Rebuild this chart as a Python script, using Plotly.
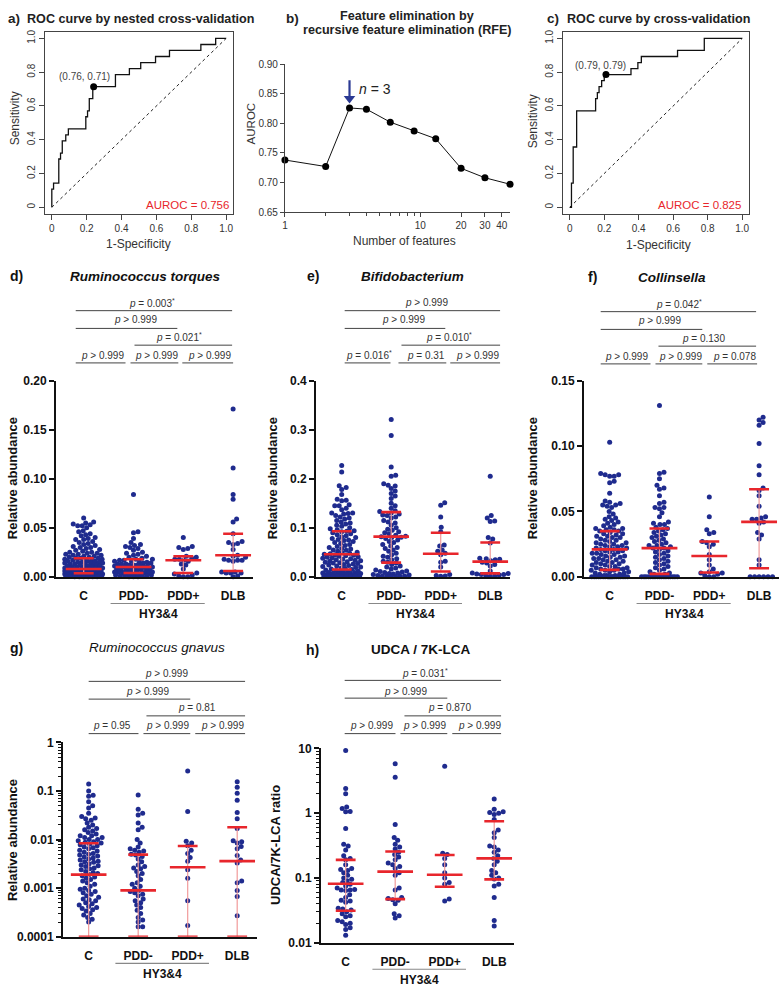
import math
import plotly.graph_objects as go

W, H = 783, 994

# ---------------- data ----------------
roc_a_fpr = [0, 0, 0.01, 0.01, 0.04, 0.04, 0.05, 0.05, 0.06, 0.06, 0.08, 0.08, 0.095, 0.095, 0.195, 0.195,
             0.205, 0.205, 0.215, 0.215, 0.235, 0.235, 0.365, 0.365, 0.445, 0.445, 0.51, 0.51, 0.595, 0.595,
             0.675, 0.675, 0.855, 0.855, 0.94, 0.94, 1.0]
roc_a_tpr = [0, 0.107, 0.107, 0.143, 0.143, 0.286, 0.286, 0.321, 0.321, 0.393, 0.393, 0.429, 0.429, 0.464,
             0.464, 0.536, 0.536, 0.571, 0.571, 0.643, 0.643, 0.714, 0.714, 0.786, 0.786, 0.821, 0.821, 0.857,
             0.857, 0.893, 0.893, 0.929, 0.929, 0.964, 0.964, 1.0, 1.0]
roc_a_point = (0.24, 0.714)
roc_a_label = "(0.76, 0.71)"
roc_a_auc = "AUROC = 0.756"

roc_c_fpr = [0, 0.01, 0.01, 0.02, 0.02, 0.04, 0.04, 0.15, 0.15, 0.16, 0.16, 0.17, 0.17, 0.185, 0.185, 0.2,
             0.2, 0.355, 0.355, 0.395, 0.395, 0.415, 0.415, 0.625, 0.625, 0.78, 0.78, 1.0]
roc_c_tpr = [0, 0, 0.143, 0.143, 0.357, 0.357, 0.571, 0.571, 0.643, 0.643, 0.679, 0.679, 0.714, 0.714, 0.75,
             0.75, 0.786, 0.786, 0.821, 0.821, 0.857, 0.857, 0.893, 0.893, 0.929, 0.929, 1.0, 1.0]
roc_c_point = (0.21, 0.786)
roc_c_label = "(0.79, 0.79)"
roc_c_auc = "AUROC = 0.825"

rfe_n = [1, 2, 3, 4, 6, 9, 13, 20, 30, 46]
rfe_auc = [0.738, 0.727, 0.826, 0.824, 0.802, 0.787, 0.774, 0.724, 0.708, 0.697]
rfe_best_n = 3

categories = ["C", "PDD-", "PDD+", "DLB"]

# d) Ruminococcus torques
d_C = [0.060, 0.056, 0.055, 0.054, 0.053, 0.052, 0.052, 0.050, 0.047, 0.046, 0.044, 0.043, 0.042, 0.040, 0.039,
       0.038, 0.038, 0.036, 0.035, 0.034, 0.033, 0.032, 0.031, 0.030, 0.030, 0.029, 0.028, 0.027, 0.026, 0.025,
       0.025, 0.024, 0.024, 0.023, 0.023, 0.022, 0.022, 0.021, 0.021, 0.020, 0.020, 0.019, 0.019, 0.019, 0.018,
       0.018, 0.017, 0.017, 0.017, 0.016, 0.016, 0.016, 0.015, 0.015, 0.015, 0.014, 0.014, 0.014, 0.013, 0.013,
       0.013, 0.012, 0.012, 0.012, 0.011, 0.011, 0.011, 0.010, 0.010, 0.010, 0.010, 0.009, 0.009, 0.009, 0.009,
       0.008, 0.008, 0.008, 0.008, 0.008, 0.007, 0.007, 0.007, 0.007, 0.006, 0.006, 0.006, 0.006, 0.006, 0.005,
       0.005, 0.005, 0.005, 0.005, 0.004, 0.004, 0.004, 0.004, 0.004, 0.004, 0.003, 0.003, 0.003, 0.003, 0.003,
       0.003, 0.002, 0.002, 0.002, 0.002, 0.002, 0.002, 0.001, 0.001, 0.001, 0.001, 0.001, 0.001, 0.0005, 0.0005,
       0.0005, 0.0005, 0.0, 0.0, 0.0, 0.0, 0.0, 0.0]
d_PDDm = [0.084, 0.046, 0.045, 0.039, 0.035, 0.033, 0.032, 0.031, 0.030, 0.029, 0.027, 0.025, 0.024, 0.023,
          0.022, 0.021, 0.020, 0.019, 0.018, 0.018, 0.017, 0.017, 0.016, 0.016, 0.015, 0.015, 0.014, 0.014,
          0.013, 0.013, 0.013, 0.012, 0.012, 0.012, 0.011, 0.011, 0.011, 0.010, 0.010, 0.010, 0.010, 0.009,
          0.009, 0.009, 0.008, 0.008, 0.008, 0.007, 0.007, 0.007, 0.006, 0.006, 0.006, 0.005, 0.005, 0.005,
          0.005, 0.004, 0.004, 0.004, 0.003, 0.003, 0.003, 0.002, 0.002, 0.002, 0.001, 0.001, 0.001, 0.0005,
          0.0, 0.0, 0.0]
d_PDDp = [0.040, 0.031, 0.030, 0.029, 0.028, 0.021, 0.020, 0.019, 0.018, 0.018, 0.017, 0.016, 0.013, 0.012,
          0.008, 0.004, 0.003, 0.002, 0.001, 0.0, 0.0]
d_DLB = [0.171, 0.111, 0.084, 0.079, 0.059, 0.056, 0.044, 0.036, 0.035, 0.034, 0.033, 0.028, 0.022, 0.021,
         0.020, 0.018, 0.017, 0.017, 0.017, 0.016, 0.005, 0.005, 0.004, 0.004, 0.004, 0.001, 0.0]
d_med = [0.008, 0.010, 0.017, 0.022]
d_q1 = [0.0037, 0.004, 0.004, 0.006]
d_q3 = [0.019, 0.018, 0.021, 0.044]

# e) Bifidobacterium
e_C = [0.227, 0.214, 0.186, 0.182, 0.178, 0.168, 0.158, 0.156, 0.155, 0.147, 0.145, 0.145, 0.140, 0.137, 0.130,
       0.130, 0.129, 0.128, 0.125, 0.122, 0.120, 0.118, 0.115, 0.112, 0.110, 0.108, 0.105, 0.103, 0.100, 0.098,
       0.096, 0.094, 0.093, 0.092, 0.090, 0.088, 0.086, 0.084, 0.082, 0.080, 0.078, 0.076, 0.075, 0.074, 0.072,
       0.070, 0.068, 0.066, 0.064, 0.062, 0.060, 0.058, 0.057, 0.055, 0.054, 0.052, 0.050, 0.049, 0.048, 0.047,
       0.046, 0.045, 0.044, 0.043, 0.042, 0.041, 0.040, 0.039, 0.038, 0.037, 0.036, 0.035, 0.034, 0.033, 0.032,
       0.031, 0.030, 0.029, 0.028, 0.027, 0.026, 0.025, 0.024, 0.023, 0.022, 0.021, 0.020, 0.019, 0.018, 0.017,
       0.016, 0.015, 0.014, 0.013, 0.012, 0.011, 0.010, 0.010, 0.009, 0.009, 0.008, 0.008, 0.007, 0.007, 0.006,
       0.006, 0.005, 0.005, 0.005, 0.004, 0.004, 0.004, 0.003, 0.003, 0.003, 0.002, 0.002, 0.002, 0.001, 0.001,
       0.001, 0.001, 0.0005, 0.0005]
e_PDDm = [0.321, 0.288, 0.224, 0.207, 0.205, 0.190, 0.187, 0.185, 0.180, 0.175, 0.170, 0.165, 0.160, 0.150,
          0.145, 0.140, 0.135, 0.133, 0.130, 0.128, 0.126, 0.125, 0.122, 0.120, 0.115, 0.112, 0.110, 0.105,
          0.100, 0.097, 0.095, 0.092, 0.090, 0.088, 0.085, 0.083, 0.082, 0.081, 0.080, 0.078, 0.075, 0.072,
          0.070, 0.066, 0.063, 0.060, 0.058, 0.055, 0.052, 0.048, 0.045, 0.042, 0.040, 0.037, 0.035, 0.032,
          0.030, 0.028, 0.025, 0.022, 0.020, 0.018, 0.016, 0.014, 0.012, 0.011, 0.010, 0.009, 0.008, 0.007,
          0.006, 0.005, 0.004, 0.003, 0.002, 0.002, 0.001, 0.001, 0.0005, 0.0005]
e_PDDp = [0.151, 0.146, 0.122, 0.101, 0.092, 0.065, 0.063, 0.055, 0.052, 0.048, 0.045, 0.032, 0.030, 0.020,
          0.005, 0.003, 0.002, 0.001]
e_DLB = [0.205, 0.125, 0.120, 0.114, 0.113, 0.080, 0.077, 0.069, 0.038, 0.037, 0.036, 0.035, 0.033, 0.030,
         0.028, 0.025, 0.022, 0.012, 0.008, 0.007, 0.006, 0.005, 0.005, 0.004, 0.003, 0.002, 0.001]
e_med = [0.046, 0.082, 0.047, 0.031]
e_q1 = [0.015, 0.029, 0.011, 0.007]
e_q3 = [0.093, 0.132, 0.090, 0.070]

# f) Collinsella
f_C = [0.103, 0.079, 0.078, 0.078, 0.077, 0.077, 0.073, 0.072, 0.064, 0.058, 0.057, 0.056, 0.055, 0.055, 0.054,
       0.053, 0.050, 0.048, 0.046, 0.045, 0.044, 0.043, 0.042, 0.041, 0.040, 0.039, 0.038, 0.037, 0.037, 0.036,
       0.036, 0.035, 0.035, 0.034, 0.033, 0.033, 0.032, 0.031, 0.031, 0.030, 0.030, 0.029, 0.028, 0.028, 0.027,
       0.026, 0.026, 0.025, 0.025, 0.024, 0.024, 0.023, 0.023, 0.022, 0.022, 0.021, 0.021, 0.020, 0.020, 0.019,
       0.019, 0.018, 0.018, 0.017, 0.017, 0.016, 0.016, 0.015, 0.015, 0.014, 0.014, 0.013, 0.013, 0.012, 0.012,
       0.011, 0.011, 0.010, 0.010, 0.009, 0.009, 0.008, 0.008, 0.007, 0.007, 0.006, 0.006, 0.006, 0.005, 0.005,
       0.005, 0.004, 0.004, 0.003, 0.003, 0.002, 0.002, 0.001, 0.001, 0.001, 0.0, 0.0, 0.0, 0.0, 0.0, 0.0, 0.0,
       0.0, 0.0, 0.0, 0.0, 0.0, 0.0, 0.0, 0.0, 0.0, 0.0, 0.0, 0.0, 0.0]
f_PDDm = [0.131, 0.080, 0.079, 0.075, 0.070, 0.068, 0.067, 0.062, 0.057, 0.056, 0.053, 0.053, 0.052, 0.049,
          0.046, 0.042, 0.041, 0.040, 0.040, 0.038, 0.037, 0.036, 0.035, 0.034, 0.033, 0.032, 0.031, 0.030,
          0.029, 0.028, 0.027, 0.026, 0.025, 0.024, 0.024, 0.023, 0.022, 0.022, 0.021, 0.020, 0.019, 0.018,
          0.017, 0.016, 0.015, 0.014, 0.013, 0.012, 0.011, 0.010, 0.009, 0.008, 0.007, 0.006, 0.005, 0.004,
          0.003, 0.002, 0.002, 0.001, 0.001, 0.0, 0.0, 0.0, 0.0, 0.0, 0.0, 0.0, 0.0, 0.0, 0.0, 0.0, 0.0, 0.0,
          0.0, 0.0, 0.0, 0.0]
f_PDDp = [0.061, 0.046, 0.036, 0.034, 0.033, 0.027, 0.026, 0.025, 0.023, 0.017, 0.013, 0.009, 0.006, 0.004,
          0.003, 0.003, 0.002, 0.001, 0.0, 0.0]
f_DLB = [0.122, 0.120, 0.118, 0.116, 0.102, 0.085, 0.078, 0.068, 0.066, 0.062, 0.054, 0.046, 0.045, 0.044,
         0.044, 0.042, 0.041, 0.034, 0.032, 0.029, 0.013, 0.009, 0.0, 0.0, 0.0, 0.0, 0.0, 0.0]
f_med = [0.021, 0.022, 0.016, 0.042]
f_q1 = [0.0053, 0.0023, 0.0033, 0.0066]
f_q3 = [0.035, 0.037, 0.027, 0.067]

# g) Ruminococcus gnavus (log scale; zeros not shown)
g_C = [0.14, 0.10, 0.082, 0.078, 0.06, 0.05, 0.045, 0.035, 0.03, 0.028, 0.027, 0.025, 0.022, 0.02, 0.018,
       0.017, 0.016, 0.015, 0.014, 0.013, 0.012, 0.012, 0.011, 0.011, 0.010, 0.010, 0.0095, 0.009, 0.0088,
       0.0085, 0.008, 0.0078, 0.0075, 0.007, 0.0068, 0.0065, 0.006, 0.0058, 0.0055, 0.0052, 0.005, 0.0048,
       0.0046, 0.0044, 0.0042, 0.004, 0.0038, 0.0036, 0.0035, 0.0034, 0.0032, 0.003, 0.0029, 0.0028, 0.0026,
       0.0025, 0.0024, 0.0022, 0.0021, 0.002, 0.0019, 0.0018, 0.0017, 0.0016, 0.0015, 0.0014, 0.0013, 0.0012,
       0.0011, 0.001, 0.00095, 0.0009, 0.00085, 0.0008, 0.00075, 0.0007, 0.00065, 0.0006, 0.00058, 0.00055,
       0.0005, 0.00048, 0.00045, 0.00042, 0.0004, 0.00038, 0.00036, 0.00034, 0.0003, 0.00028, 0.00025,
       0.00023, 0.0002]
g_PDDm = [0.083, 0.042, 0.035, 0.032, 0.022, 0.018, 0.016, 0.010, 0.0085, 0.007, 0.0065, 0.006, 0.0058, 0.0055,
          0.005, 0.0048, 0.0045, 0.004, 0.0035, 0.003, 0.0028, 0.0026, 0.0025, 0.0022, 0.002, 0.0018, 0.0015,
          0.0013, 0.0012, 0.0011, 0.001, 0.0009, 0.00085, 0.0008, 0.00075, 0.0007, 0.0006, 0.00055, 0.0005,
          0.00045, 0.0004, 0.00035, 0.0003, 0.00025, 0.00022, 0.0002, 0.00016, 0.00016]
g_PDDp = [0.26, 0.038, 0.0092, 0.0085, 0.0075, 0.006, 0.0052, 0.0043, 0.0036, 0.0024, 0.0016, 0.00055, 0.00017]
g_DLB = [0.155, 0.12, 0.09, 0.065, 0.036, 0.027, 0.017, 0.0095, 0.009, 0.0085, 0.0072, 0.0065, 0.0047, 0.0038,
         0.0033, 0.0014, 0.0013, 0.0009, 0.00067, 0.00027]
g_med = [0.0019, 0.0009, 0.0027, 0.0036]
g_q1 = [0.0, 0.0, 0.0, 0.0]
g_q3 = [0.0084, 0.0049, 0.0074, 0.018]

# h) UDCA / 7K-LCA (log scale)
h_C = [9.3, 2.4, 2.0, 1.25, 1.18, 1.06, 1.05, 0.58, 0.33, 0.31, 0.27, 0.22, 0.20, 0.19, 0.16, 0.14, 0.135,
       0.13, 0.12, 0.11, 0.10, 0.095, 0.09, 0.085, 0.08, 0.075, 0.07, 0.066, 0.065, 0.065, 0.064, 0.055, 0.05,
       0.045, 0.044, 0.042, 0.034, 0.033, 0.032, 0.03, 0.028, 0.026, 0.025, 0.022, 0.021, 0.02, 0.019, 0.017,
       0.016, 0.013]
h_PDDm = [5.8, 3.6, 0.67, 0.42, 0.38, 0.33, 0.30, 0.28, 0.25, 0.23, 0.21, 0.19, 0.17, 0.16, 0.15, 0.14, 0.12,
          0.11, 0.07, 0.065, 0.05, 0.048, 0.046, 0.045, 0.04, 0.028, 0.026, 0.024]
h_PDDp = [5.3, 0.24, 0.23, 0.20, 0.16, 0.12, 0.10, 0.085, 0.08, 0.047, 0.044]
h_DLB = [1.65, 1.15, 1.05, 1.02, 1.0, 0.95, 0.8, 0.55, 0.5, 0.42, 0.31, 0.3, 0.27, 0.25, 0.22, 0.2, 0.18,
         0.16, 0.13, 0.12, 0.11, 0.1, 0.096, 0.08, 0.075, 0.05, 0.022, 0.018]
h_med = [0.081, 0.125, 0.112, 0.20]
h_q1 = [0.031, 0.047, 0.073, 0.095]
h_q3 = [0.19, 0.255, 0.226, 0.75]

# ---------------- styling ----------------
NAVY = '#1f2b8e'
RED = '#e8262c'
PINK = '#f19a9a'
TXT = '#333333'
FONT = 'Liberation Sans, Arial, Helvetica, sans-serif'

fig = go.Figure()
annotations = []
shapes = []
layout_axes = {}


def px(x):
    return x / W


def py(y):
    return 1 - y / H


def ann(text, x, y, size=10, color=TXT, family=FONT, xanchor='center', yanchor='middle', angle=0):
    annotations.append(dict(text=text, x=px(x), y=py(y), xref='paper', yref='paper', showarrow=False,
                            xanchor=xanchor, yanchor=yanchor, textangle=angle,
                            font=dict(size=size, color=color, family=family)))


def hline(x0, x1, y, color='#444', width=1):
    shapes.append(dict(type='line', xref='paper', yref='paper', x0=px(x0), x1=px(x1), y0=py(y), y1=py(y),
                       line=dict(color=color, width=width)))


def axname(k, which):
    return f'{which}axis' + ('' if k == 1 else str(k))


def ref(k, which):
    return which + ('' if k == 1 else str(k))


# ---------------- ROC panels (a, c) ----------------
def roc_panel(k, fpr, tpr, pt, label, auc, xdom, ydom, label_xy, auc_x):
    xr, yr = ref(k, 'x'), ref(k, 'y')
    fig.add_trace(go.Scatter(x=[0, 1], y=[0, 1], mode='lines', xaxis=xr, yaxis=yr,
                             line=dict(color='#222', width=1, dash='3px,3px'), showlegend=False, hoverinfo='skip'))
    fig.add_trace(go.Scatter(x=fpr, y=tpr, mode='lines', xaxis=xr, yaxis=yr,
                             line=dict(color='#111', width=1.3), showlegend=False))
    fig.add_trace(go.Scatter(x=[pt[0]], y=[pt[1]], mode='markers', xaxis=xr, yaxis=yr,
                             marker=dict(color='#000', size=7), showlegend=False))
    ticks = dict(tickvals=[0, 0.2, 0.4, 0.6, 0.8, 1.0], ticktext=['0', '0.2', '0.4', '0.6', '0.8', '1.0'],
                 ticks='outside', ticklen=5, tickcolor='#444', showline=True, mirror=True, linecolor='#444',
                 linewidth=1, showgrid=False, zeroline=False, range=[-0.04, 1.04],
                 tickfont=dict(size=10, color=TXT, family=FONT))
    layout_axes[axname(k, 'x')] = dict(domain=[px(xdom[0]), px(xdom[1])], anchor=yr, **ticks)
    layout_axes[axname(k, 'y')] = dict(domain=[py(ydom[1]), py(ydom[0])], anchor=xr, tickangle=-90, **ticks)
    ann(label, label_xy[0], label_xy[1], size=10, color='#444')
    ann(auc, auc_x, 201, size=11.5, color='#e8262c', xanchor='right')


roc_panel(1, roc_a_fpr, roc_a_tpr, roc_a_point, roc_a_label, roc_a_auc, (42, 231), (25, 210), (82, 71), 229)
roc_panel(3, roc_c_fpr, roc_c_tpr, roc_c_point, roc_c_label, roc_c_auc, (562, 749), (25, 210), (600, 59), 743)

ann('<b>a)</b>', 3, 12, size=13.5, color='#222', xanchor='left')
ann('<b>ROC curve by nested cross-validation</b>', 22, 12, size=12.6, color='#222', xanchor='left')
ann('<b>c)</b>', 544, 12, size=13.5, color='#222', xanchor='left')
ann('<b>ROC curve by cross-validation</b>', 564, 12, size=12.6, color='#222', xanchor='left')
ann('Sensitivity', 12, 113, size=12, color=TXT, angle=-90)
ann('Sensitivity', 532, 116, size=12, color=TXT, angle=-90)
ann('1-Specificity', 136, 240, size=12, color=TXT)
ann('1-Specificity', 658, 241, size=12, color=TXT)

# ---------------- RFE panel (b) ----------------
fig.add_trace(go.Scatter(x=rfe_n, y=rfe_auc, mode='lines+markers', xaxis='x2', yaxis='y2',
                         line=dict(color='#111', width=1), marker=dict(color='#000', size=7),
                         cliponaxis=False, showlegend=False))
# arrow marking the selected number of features
best_auc = rfe_auc[rfe_n.index(rfe_best_n)]
fig.add_trace(go.Scatter(x=[rfe_best_n, rfe_best_n], y=[best_auc + 0.047, best_auc + 0.018], mode='lines',
                         xaxis='x2', yaxis='y2', line=dict(color='#2b3a94', width=2.2), cliponaxis=False,
                         showlegend=False))
fig.add_trace(go.Scatter(x=[rfe_best_n], y=[best_auc + 0.016], mode='markers', xaxis='x2', yaxis='y2',
                         marker=dict(symbol='triangle-down', color='#2b3a94', size=10), cliponaxis=False,
                         showlegend=False))
layout_axes['xaxis2'] = dict(domain=[px(283), px(509)], anchor='y2', type='log', range=[0, math.log10(46)],
                             tickvals=[1, 10, 20, 30, 40], ticktext=['1', '10', '20', '30', '40'],
                             ticks='outside', ticklen=4, tickcolor='#444', showline=True, linecolor='#444',
                             linewidth=1, showgrid=False, zeroline=False,
                             minor=dict(tickmode='array', tickvals=[2, 3, 4, 5, 6, 7, 8, 9], ticks='outside',
                                        ticklen=3, tickcolor='#444'),
                             tickfont=dict(size=10, color=TXT, family=FONT))
layout_axes['yaxis2'] = dict(domain=[py(208), py(58)], anchor='x2', range=[0.65, 0.90],
                             tickvals=[0.65, 0.70, 0.75, 0.80, 0.85, 0.90],
                             ticktext=['0.65', '0.70', '0.75', '0.80', '0.85', '0.90'],
                             ticks='outside', ticklen=4, tickcolor='#444', showline=True, linecolor='#444',
                             linewidth=1, showgrid=False, zeroline=False,
                             tickfont=dict(size=10, color=TXT, family=FONT))
ann('<i>n</i> = 3', 373, 83, size=14, color='#222')
ann('<b>b)</b>', 282, 12, size=13.5, color='#222', xanchor='left')
ann('<b>Feature elimination by</b>', 406, 9, size=12.6, color='#222')
ann('<b>recursive feature elimination (RFE)</b>', 406, 23, size=12.6, color='#222')
ann('AUROC', 249, 118, size=11.5, color=TXT, angle=-90)
ann('Number of features', 403, 237, size=12, color=TXT)


# ---------------- dot plots (d-h) ----------------
def swarm(vals, to_px, xscale, diam=4.5, maxw=19.0):
    n = len(vals)
    ys = [to_px(v) for v in vals]
    order = sorted(range(n), key=lambda i: ys[i])
    cands = [0.0]
    k = 1
    while k * 0.5 <= maxw:
        cands += [k * 0.5, -k * 0.5]
        k += 1
    placed = []
    offs = [0.0] * n
    for i in order:
        y = ys[i]
        near = [(a, b) for (a, b) in placed if abs(b - y) < diam]
        chosen = None
        best_c, best_d = 0.0, -1.0
        for c in cands:
            md = min([(c - a) ** 2 + (y - b) ** 2 for a, b in near], default=1e9)
            if md >= diam * diam:
                chosen = c
                break
            if md > best_d:
                best_d, best_c = md, c
        if chosen is None:
            chosen = best_c
        placed.append((chosen, y))
        offs[i] = chosen / xscale
    return offs


def dot_panel(k, groups, med, q1, q3, xdom, c0, sp, ydom, yrange, log, tickvals, ticktext):
    xr, yr = ref(k, 'x'), ref(k, 'y')
    hpx = ydom[1] - ydom[0]
    scale = hpx / (yrange[1] - yrange[0])
    if log:
        to_px = lambda v: math.log10(v) * scale
    else:
        to_px = lambda v: v * scale
    for gi, vals in enumerate(groups):
        vv = [v for v in vals if (v > 0 or not log)]
        offs = swarm(vv, to_px, sp)
        fig.add_trace(go.Scatter(x=[gi + o for o in offs], y=vv, mode='markers', xaxis=xr, yaxis=yr,
                                 marker=dict(color=NAVY, size=5, line=dict(width=0)), cliponaxis=False,
                                 showlegend=False))
    ymin = 10 ** yrange[0] if log else yrange[0]
    for gi in range(len(groups)):
        lo = max(q1[gi], ymin)
        fig.add_trace(go.Scatter(x=[gi, gi], y=[lo, q3[gi]], mode='lines', xaxis=xr, yaxis=yr,
                                 line=dict(color=PINK, width=1.2), cliponaxis=False, showlegend=False))
        for yv, hw in ((lo, 0.2), (q3[gi], 0.2), (med[gi], 0.36)):
            fig.add_trace(go.Scatter(x=[gi - hw, gi + hw], y=[yv, yv], mode='lines', xaxis=xr, yaxis=yr,
                                     line=dict(color=RED, width=2.6), cliponaxis=False, showlegend=False))
    x0 = (xdom[0] - c0) / sp
    x1 = (xdom[1] - c0) / sp
    layout_axes[axname(k, 'x')] = dict(domain=[px(xdom[0]), px(xdom[1])], anchor=yr, range=[x0, x1],
                                       tickvals=[0, 1, 2, 3], ticktext=categories, ticks='',
                                       showline=True, linecolor='#111', linewidth=1.5, showgrid=False,
                                       zeroline=False, ticklabelstandoff=7,
                                       tickfont=dict(size=12, color='#111', family=FONT, weight='bold'))
    ya = dict(domain=[py(ydom[1]), py(ydom[0])], anchor=xr, range=list(yrange), tickvals=tickvals,
              ticktext=ticktext, ticks='outside', ticklen=5, tickwidth=1.5, tickcolor='#111',
              showline=True, linecolor='#111', linewidth=1.5, showgrid=False, zeroline=False,
              tickfont=dict(size=12, color='#111', family=FONT, weight='bold'))
    if log:
        ya['type'] = 'log'
        minor_vals = []
        for e in range(int(yrange[0]), int(yrange[1])):
            for m in range(2, 10):
                minor_vals.append(m * 10 ** e)
        ya['minor'] = dict(tickmode='array', tickvals=minor_vals, ticks='outside', ticklen=3, tickwidth=1,
                           tickcolor='#111')
    layout_axes[axname(k, 'y')] = ya
    # HY3&4 bracket
    shapes.append(dict(type='line', xref=xr, yref='paper', x0=0.54, x1=2.43,
                       y0=py(ydom[1] + 27), y1=py(ydom[1] + 27), line=dict(color='#888', width=1.2)))
    annotations.append(dict(text='<b>HY3&amp;4</b>', x=1.5, y=py(ydom[1] + 38), xref=xr, yref='paper',
                            xanchor='center', yanchor='middle', showarrow=False,
                            font=dict(size=12, color='#111', family=FONT)))


dot_panel(4, [d_C, d_PDDm, d_PDDp, d_DLB], d_med, d_q1, d_q3, (53, 251), 81, 50, (379, 578), (0, 0.2), False,
          [0, 0.05, 0.10, 0.15, 0.20], ['0.00', '0.05', '0.10', '0.15', '0.20'])
dot_panel(5, [e_C, e_PDDm, e_PDDp, e_DLB], e_med, e_q1, e_q3, (314, 509), 340, 49.7, (379, 578), (0, 0.4), False,
          [0, 0.1, 0.2, 0.3, 0.4], ['0.0', '0.1', '0.2', '0.3', '0.4'])
dot_panel(6, [f_C, f_PDDm, f_PDDp, f_DLB], f_med, f_q1, f_q3, (583, 779), 609, 50, (379, 578), (0, 0.15), False,
          [0, 0.05, 0.10, 0.15], ['0.00', '0.05', '0.10', '0.15'])
dot_panel(7, [g_C, g_PDDm, g_PDDp, g_DLB], g_med, g_q1, g_q3, (60, 255), 86, 49.7, (746, 943), (-4, 0), True,
          [0.0001, 0.001, 0.01, 0.1, 1], ['0.0001', '0.001', '0.01', '0.1', '1'])
dot_panel(8, [h_C, h_PDDm, h_PDDp, h_DLB], h_med, h_q1, h_q3, (319, 513), 344, 49.7, (752, 949), (-2, 1), True,
          [0.01, 0.1, 1, 10], ['0.01', '0.1', '1', '10'])

# titles
ann('<b>d)</b>', 14, 273, size=14, color='#111')
ann('<b><i>Ruminococcus torques</i></b>', 143, 273, size=13.5, color='#111')
ann('<b>e)</b>', 311, 273, size=14, color='#111')
ann('<b><i>Bifidobacterium</i></b>', 411, 273, size=13.5, color='#111')
ann('<b>f)</b>', 592, 274, size=14, color='#111')
ann('<b><i>Collinsella</i></b>', 672, 274, size=13.5, color='#111')
ann('<b>g)</b>', 14, 650, size=14, color='#111')
ann('<i>Ruminococcus gnavus</i>', 155, 650, size=13.5, color='#111')
ann('<b>h)</b>', 311, 652, size=14, color='#111')
ann('<b>UDCA / 7K-LCA</b>', 419, 652, size=13.5, color='#111')

# y-axis titles
ann('<b>Relative abundance</b>', 9, 478, size=13, color='#111', angle=-90)
ann('<b>Relative abundance</b>', 270, 478, size=13, color='#111', angle=-90)
ann('<b>Relative abundance</b>', 531, 478, size=13, color='#111', angle=-90)
ann('<b>Relative abundance</b>', 9, 845, size=13, color='#111', angle=-90)
ann('<b>UDCA/7K-LCA ratio</b>', 273, 850, size=13, color='#111', angle=-90)

# significance brackets
P = '<i>p</i>'
sig_lines = [
    (73, 230, 308), (73, 175, 326), (132, 230, 343), (73, 123, 361), (128, 176, 361), (180, 231, 361),
    (343, 499, 308), (343, 444, 326), (400, 499, 343), (343, 389, 361), (397, 445, 361), (449, 499, 361),
    (600, 756, 309), (600, 702, 327), (658, 756, 344), (600, 650, 362), (655, 702, 362), (707, 757, 362),
    (86, 243, 684), (86, 188, 702), (144, 243, 719), (86, 136, 737), (141, 188, 737), (193, 243, 737),
    (343, 500, 683), (343, 446, 701), (403, 500, 719), (343, 394, 737), (399, 446, 737), (451, 500, 737),
]
sig_texts = [
    (150, 300, 'p = 0.003*'), (133, 317, 'p > 0.999'), (177, 335, 'p = 0.021*'),
    (100, 353, 'p > 0.999'), (154, 353, 'p > 0.999'), (207, 353, 'p > 0.999'),
    (425, 300, 'p > 0.999'), (402, 317, 'p > 0.999'), (448, 335, 'p = 0.010*'),
    (367, 353, 'p = 0.016*'), (425, 353, 'p = 0.31'), (476, 353, 'p > 0.999'),
    (679, 301, 'p = 0.042*'), (659, 318, 'p > 0.999'), (703, 336, 'p = 0.130'),
    (626, 354, 'p > 0.999'), (680, 354, 'p > 0.999'), (734, 354, 'p = 0.078'),
    (164, 676, 'p > 0.999'), (145, 694, 'p > 0.999'), (195, 711, 'p = 0.81'),
    (109, 729, 'p = 0.95'), (165, 729, 'p > 0.999'), (220, 729, 'p > 0.999'),
    (424, 676, 'p = 0.031*'), (404, 694, 'p > 0.999'), (448, 711, 'p = 0.870'),
    (370, 729, 'p > 0.999'), (423, 729, 'p > 0.999'), (478, 729, 'p > 0.999'),
]
for x0, x1, y in sig_lines:
    hline(x0, x1, y, color='#444', width=1)
for x, y, t in sig_texts:
    t = t.replace('p ', P + ' ', 1)
    if t.endswith('*'):
        t = t[:-1] + '<sup>*</sup>'
    ann(t, x, y, size=10, color=TXT)

fig.update_layout(width=W, height=H, margin=dict(l=0, r=0, t=0, b=0), autosize=False,
                  paper_bgcolor='white', plot_bgcolor='white', showlegend=False,
                  annotations=annotations, shapes=shapes, **layout_axes)
fig.write_html('out.html', config={'displayModeBar': False},
               post_script="document.body.style.margin='0px';document.body.style.overflow='hidden';")
